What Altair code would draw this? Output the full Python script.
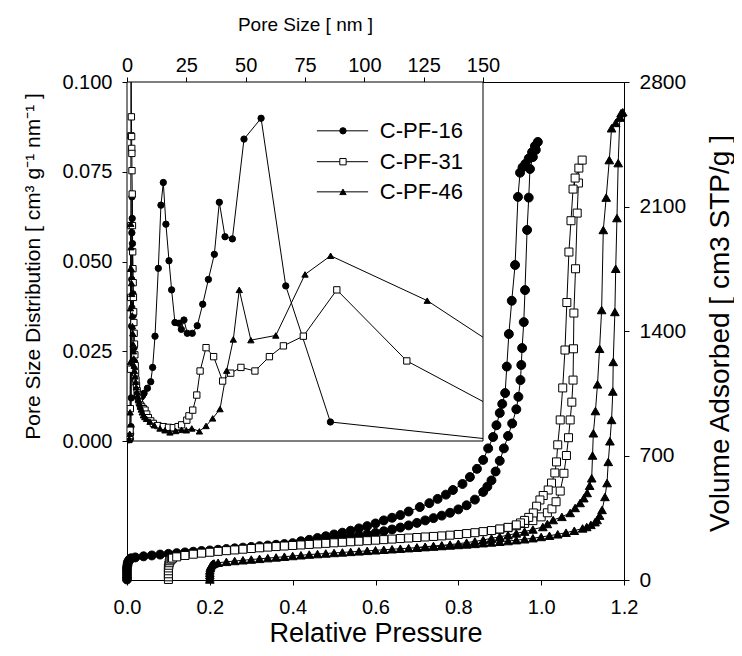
import altair as alt
import pandas as pd

# ---------------- categories / styles ----------------
SERIES = ["C-PF-16", "C-PF-31", "C-PF-46"]
OFFSET = [0.0, 0.1, 0.2]          # horizontal shift of each isotherm in the figure

P_TICKS = [0.0, 0.2, 0.4, 0.6, 0.8, 1.0, 1.2]
V_TICKS = [0, 700, 1400, 2100, 2800]
PS_TICKS = [0, 25, 50, 75, 100, 125, 150]
PSD_TICKS = [0.0, 0.025, 0.05, 0.075, 0.1]

# ---------------- isotherms (relative pressure, volume adsorbed) ----------------
ADS_16 = [(0.0, 3), (0.0, 18), (0.0, 35), (0.0, 52), (0.0, 68), (0.001, 83), (0.002, 97), (0.004, 108),
          (0.007, 117), (0.01, 122), (0.02, 127), (0.04, 133), (0.06, 138), (0.08, 143), (0.10, 147),
          (0.12, 151), (0.14, 155), (0.16, 159), (0.18, 163), (0.20, 166), (0.22, 170), (0.24, 174),
          (0.26, 178), (0.28, 182), (0.30, 186), (0.32, 190), (0.34, 194), (0.36, 198), (0.38, 202),
          (0.40, 207), (0.42, 211), (0.44, 216), (0.46, 221), (0.48, 226), (0.50, 231), (0.52, 237),
          (0.54, 243), (0.56, 250), (0.58, 257), (0.60, 265), (0.62, 274), (0.64, 284), (0.66, 295),
          (0.68, 307), (0.70, 321), (0.72, 335), (0.74, 348), (0.76, 362), (0.78, 378), (0.80, 397),
          (0.82, 420), (0.84, 452), (0.86, 495), (0.87, 525), (0.88, 560), (0.89, 610), (0.90, 670),
          (0.91, 740), (0.92, 810), (0.93, 880), (0.94, 960), (0.945, 1030), (0.95, 1124), (0.952, 1209),
          (0.954, 1304), (0.958, 1450), (0.961, 1630), (0.966, 1968), (0.970, 2150), (0.973, 2311),
          (0.980, 2378), (0.987, 2418), (0.992, 2463)]
DES_16 = [(0.985, 2440), (0.978, 2405), (0.970, 2370), (0.962, 2340), (0.955, 2320), (0.949, 2290),
          (0.944, 2154), (0.937, 1771), (0.929, 1570), (0.922, 1383), (0.917, 1200), (0.913, 1051),
          (0.906, 990), (0.900, 939), (0.892, 870), (0.884, 804), (0.872, 740), (0.860, 675),
          (0.845, 625), (0.828, 579), (0.810, 540), (0.787, 506), (0.770, 480), (0.750, 456),
          (0.730, 432), (0.707, 410), (0.680, 385), (0.660, 365), (0.640, 350), (0.620, 335),
          (0.600, 318), (0.580, 303), (0.560, 290), (0.540, 277), (0.520, 266), (0.500, 256),
          (0.480, 246), (0.460, 236), (0.440, 226), (0.420, 218)]

ADS_31 = [(0.0, 3), (0.0, 18), (0.0, 35), (0.0, 52), (0.0, 68), (0.001, 83), (0.002, 97), (0.004, 108),
          (0.007, 117), (0.01, 123), (0.02, 130), (0.04, 138), (0.06, 145), (0.08, 151), (0.10, 156),
          (0.12, 161), (0.14, 165), (0.16, 169), (0.18, 173), (0.20, 177), (0.22, 181), (0.24, 185),
          (0.26, 188), (0.28, 191), (0.30, 194), (0.32, 197), (0.34, 200), (0.36, 203), (0.38, 206),
          (0.40, 209), (0.42, 212), (0.44, 215), (0.46, 218), (0.48, 221), (0.50, 224), (0.52, 227),
          (0.54, 230), (0.56, 233), (0.58, 236), (0.60, 239), (0.62, 242), (0.64, 245), (0.66, 248),
          (0.68, 252), (0.70, 256), (0.72, 261), (0.74, 266), (0.76, 272), (0.78, 278), (0.80, 285),
          (0.82, 294), (0.84, 305), (0.86, 318), (0.88, 334), (0.90, 355), (0.915, 378), (0.926, 400),
          (0.936, 440), (0.946, 500), (0.955, 600), (0.961, 700), (0.966, 800), (0.970, 900),
          (0.974, 1000), (0.977, 1124), (0.978, 1300), (0.979, 1501), (0.983, 1750), (0.987, 2063),
          (0.990, 2232), (0.991, 2316), (0.999, 2361)]
DES_31 = [(0.982, 2260), (0.977, 2198), (0.972, 2020), (0.967, 1844), (0.962, 1560), (0.9575, 1293),
          (0.952, 1080), (0.946, 900), (0.940, 760), (0.937, 664), (0.933, 602), (0.925, 545),
          (0.917, 506), (0.905, 475), (0.897, 450), (0.889, 415), (0.881, 377), (0.870, 352),
          (0.860, 335), (0.850, 321), (0.840, 310), (0.820, 296), (0.800, 287)]

ADS_46 = [(0.0, 3), (0.0, 15), (0.0, 28), (0.0, 41), (0.0, 54), (0.001, 66), (0.002, 76), (0.004, 84),
          (0.007, 90), (0.01, 93), (0.02, 97), (0.04, 102), (0.06, 107), (0.08, 111), (0.10, 115),
          (0.12, 119), (0.14, 123), (0.16, 127), (0.18, 131), (0.20, 135), (0.22, 139), (0.24, 143),
          (0.26, 146), (0.28, 149), (0.30, 152), (0.32, 155), (0.34, 158), (0.36, 161), (0.38, 164),
          (0.40, 167), (0.42, 170), (0.44, 173), (0.46, 176), (0.48, 179), (0.50, 182), (0.52, 185),
          (0.54, 188), (0.56, 191), (0.58, 194), (0.60, 197), (0.62, 200), (0.64, 203), (0.66, 207),
          (0.68, 211), (0.70, 215), (0.72, 219), (0.74, 224), (0.76, 229), (0.78, 235), (0.80, 242),
          (0.82, 249), (0.84, 257), (0.86, 266), (0.88, 277), (0.90, 290), (0.91, 298), (0.92, 310),
          (0.93, 325), (0.935, 337), (0.941, 362), (0.947, 394), (0.954, 467), (0.959, 545),
          (0.962, 664), (0.966, 780), (0.970, 900), (0.973, 1060), (0.974, 1226), (0.978, 1507),
          (0.980, 1750), (0.983, 2035), (0.986, 2344), (0.990, 2603), (0.993, 2625), (0.997, 2630)]
DES_46 = [(0.990, 2600), (0.980, 2570), (0.970, 2540), (0.9645, 2361), (0.957, 2150), (0.950, 1968),
          (0.946, 1518), (0.941, 1300), (0.936, 1100), (0.931, 950), (0.926, 825), (0.924, 700),
          (0.922, 572), (0.917, 530), (0.911, 489), (0.903, 460), (0.894, 433), (0.882, 405),
          (0.870, 377), (0.850, 355), (0.829, 337), (0.815, 315), (0.804, 298), (0.780, 284),
          (0.760, 272), (0.740, 262), (0.720, 252), (0.700, 243), (0.680, 234), (0.660, 225),
          (0.640, 217), (0.620, 210), (0.600, 204), (0.580, 199), (0.560, 195), (0.540, 191),
          (0.520, 187), (0.500, 183)]

# ---------------- pore size distributions (pore size nm, PSD) ----------------
PSD_16 = [(0.6, 0.0004), (0.8, 0.0004), (1.0, 0.0004), (1.2, 0.0005), (1.4, 0.0006), (1.55, 0.002),
          (1.7, 0.004), (1.8, 0.012), (1.9, 0.020), (1.95, 0.032), (2.0, 0.045), (2.05, 0.058),
          (2.1, 0.068), (2.2, 0.062), (2.3, 0.055), (2.4, 0.048), (2.5, 0.041), (2.65, 0.035),
          (2.8, 0.030), (3.0, 0.026), (3.2, 0.022), (3.4, 0.019), (3.6, 0.017), (3.9, 0.0155),
          (4.2, 0.0145), (4.6, 0.0135), (5.0, 0.0128), (5.5, 0.0124), (6.0, 0.0122), (6.6, 0.0127),
          (7.2, 0.0133), (8.6, 0.0147), (10.0, 0.0165),
          (10.8, 0.0205), (11.8, 0.0292), (13.2, 0.0481), (14.3, 0.0657), (15.3, 0.0720), (16.4, 0.0604),
          (17.7, 0.0502), (18.8, 0.0421), (20.2, 0.0330), (21.9, 0.0328), (22.9, 0.0311), (24.0, 0.0337),
          (25.4, 0.0300), (27.5, 0.0300), (29.6, 0.0321), (31.9, 0.0381), (34.3, 0.0450), (36.8, 0.0520),
          (38.9, 0.0665), (41.3, 0.0569), (44.4, 0.0563), (49.3, 0.0841), (56.5, 0.0899), (66.9, 0.0432),
          (85.7, 0.0053)]
PSD_31 = [(0.6, 0.0005), (0.8, 0.0006), (1.0, 0.0008), (1.15, 0.0015), (1.3, 0.003), (1.4, 0.009),
          (1.5, 0.020), (1.55, 0.040), (1.6, 0.060), (1.65, 0.085), (1.7, 0.115),
          (1.85, 0.0903), (1.95, 0.0848), (2.0, 0.0815), (2.05, 0.0801), (2.1, 0.0753), (2.2, 0.0688),
          (2.3, 0.060), (2.4, 0.0527), (2.5, 0.048), (2.6, 0.0441), (2.7, 0.040), (2.8, 0.036),
          (2.9, 0.033), (3.0, 0.030), (3.15, 0.027), (3.3, 0.024), (3.45, 0.021), (3.6, 0.019),
          (3.8, 0.017), (4.0, 0.0155), (4.25, 0.014), (4.5, 0.0128), (4.85, 0.0117), (5.2, 0.0108),
          (5.7, 0.010), (6.2, 0.0095), (6.9, 0.009), (7.6, 0.0086), (8.3, 0.0075), (9.0, 0.0065),
          (10.0, 0.0056), (11.1, 0.0049), (13.0, 0.0043), (15.3, 0.0040), (17.5, 0.0038),
          (19.5, 0.0037), (21.5, 0.0040),
          (23.0, 0.0045), (25.2, 0.0058), (26.1, 0.0070), (27.7, 0.0086), (29.4, 0.0128), (30.8, 0.0195),
          (33.3, 0.0260), (36.5, 0.0235), (40.3, 0.0167), (43.7, 0.0189), (48.0, 0.0205), (53.9, 0.0195),
          (60.0, 0.0235), (65.9, 0.0265), (74.3, 0.0292), (88.4, 0.0421), (117.9, 0.0223)]
PSD_46 = [(0.6, 0.0003), (0.8, 0.0004), (1.0, 0.0005), (1.15, 0.002), (1.3, 0.008), (1.4, 0.022),
          (1.45, 0.037), (1.5, 0.048), (1.6, 0.0605), (1.7, 0.054), (1.8, 0.048), (1.9, 0.044),
          (2.0, 0.041), (2.1, 0.038), (2.2, 0.035), (2.3, 0.032), (2.4, 0.030), (2.55, 0.027),
          (2.7, 0.025), (2.85, 0.023), (3.0, 0.021), (3.2, 0.0195), (3.4, 0.018), (3.65, 0.0165),
          (3.9, 0.015), (4.2, 0.0137), (4.5, 0.0125), (4.85, 0.0115), (5.2, 0.0105), (5.6, 0.0096),
          (6.0, 0.0088), (6.4, 0.008), (6.9, 0.0072), (7.5, 0.0067), (8.2, 0.0062),
          (9.7, 0.0054), (11.5, 0.0044), (13.9, 0.0035), (16.0, 0.0030), (18.1, 0.0024), (20.5, 0.0028),
          (23.0, 0.0031), (25.0, 0.0030), (27.3, 0.0035), (30.5, 0.0027), (33.3, 0.0042), (36.1, 0.0063),
          (39.2, 0.0089), (42.0, 0.0196), (44.8, 0.0283), (47.3, 0.0421), (52.2, 0.0281), (62.7, 0.0294),
          (75.0, 0.0464), (85.8, 0.0516), (126.5, 0.0391)]
# value of each curve where it leaves the inset frame (at 150 nm)
PSD_AT_FRAME = [0.0007, 0.0110, 0.0289]

# ---------------- styles ----------------
SHAPES = ["circle", "square", "triangle-up"]
FILLS = ["black", "white", "black"]
MAIN_SIZE = [80, 64, 75]
INSET_SIZE = [40, 40, 40]
FONT = "Liberation Sans"

# legend placement inside the inset (in inset data space)
LEG_LINE = (80.0, 101.6)
LEG_MARK = 91.0
LEG_TEXT = 106.5
LEG_ROWS = [0.0864, 0.0778, 0.0694]

# ---------------- tables ----------------
iso_rows = []
for s, off, ads, des in zip(SERIES, OFFSET, [ADS_16, ADS_31, ADS_46], [DES_16, DES_31, DES_46]):
    for i, (p, v) in enumerate(ads + des):
        iso_rows.append({"series": s, "x": p + off, "v": v, "i": i})
iso = pd.DataFrame(iso_rows)

psd_rows = []
for s, pts, edge in zip(SERIES, [PSD_16, PSD_31, PSD_46], PSD_AT_FRAME):
    for i, (ps, d) in enumerate(pts):
        psd_rows.append({"series": s, "ps": ps, "psd": d, "i": i, "marker": 1})
    psd_rows.append({"series": s, "ps": PS_TICKS[-1], "psd": edge, "i": len(pts), "marker": 0})
psd = pd.DataFrame(psd_rows)

frame = pd.DataFrame([{"ps": PS_TICKS[0], "ps2": PS_TICKS[-1], "psd": PSD_TICKS[0], "psd2": PSD_TICKS[-1]}])
leg_lines = pd.DataFrame([{"series": s, "ps": LEG_LINE[0], "ps2": LEG_LINE[1], "psd": r}
                          for s, r in zip(SERIES, LEG_ROWS)])
leg_marks = pd.DataFrame([{"series": s, "ps": LEG_MARK, "psd": r} for s, r in zip(SERIES, LEG_ROWS)])
leg_text = pd.DataFrame([{"series": s, "ps": LEG_TEXT, "psd": r} for s, r in zip(SERIES, LEG_ROWS)])

# ---------------- encodings ----------------
W, H = 497, 498
INSET_W, INSET_H = 356, 359

common_axis = dict(tickSize=5, labelFlush=False, labelOverlap=False, titleFontWeight="normal",
                   labelFont=FONT, titleFont=FONT, labelColor="black", titleColor="black",
                   domainColor="black", tickColor="black", grid=False)

x_main = alt.X("x:Q", scale=alt.Scale(domain=[0, 1.2], nice=False, zero=False),
               axis=alt.Axis(orient="bottom", values=P_TICKS, format=".1f", title="Relative Pressure",
                             labelPadding=12, labelFontSize=20, titleFontSize=27,
                             titleY=61, titleBaseline="alphabetic", **common_axis))
y_main = alt.Y("v:Q", scale=alt.Scale(domain=[0, 2800], nice=False, zero=False),
               axis=alt.Axis(orient="right", values=V_TICKS, format="d",
                             title="Volume Adsorbed [ cm3  STP/g ]",
                             labelPadding=10, labelFontSize=21, titleFontSize=28,
                             titleAngle=270, titleX=96, titleY=251, titleAlign="center",
                             titleBaseline="middle", **common_axis))

x_in = alt.X("ps:Q", scale=alt.Scale(domain=[0, 150], range=[0, INSET_W], nice=False, zero=False),
             axis=alt.Axis(orient="top", values=PS_TICKS, format="d", title="Pore Size [ nm ]",
                           labelPadding=2, labelFontSize=20, titleFontSize=19,
                           titleY=-58, titleBaseline="middle", **common_axis))
y_in = alt.Y("psd:Q", scale=alt.Scale(domain=[0, 0.1], range=[INSET_H, 0], nice=False, zero=False),
             axis=alt.Axis(orient="left", values=PSD_TICKS, format=".3f",
                           title="Pore Size Distribution [ cm³ g⁻¹ nm⁻¹ ]",
                           labelPadding=10, labelFontSize=20, titleFontSize=21,
                           titleAngle=270, titleX=-94, titleY=184, titleAlign="center",
                           titleBaseline="middle", **common_axis))

# ---------------- main isotherm layers ----------------
main_lines = alt.Chart(iso).mark_line(color="black", strokeWidth=1).encode(
    x=x_main, y=y_main, detail="series:N", order="i:Q")
main_pts = [
    alt.Chart(iso).transform_filter(alt.datum.series == s).mark_point(
        shape=sh, filled=True, fill=f, stroke="black", strokeWidth=1, size=sz, opacity=1
    ).encode(x=x_main, y=y_main)
    for s, sh, f, sz in zip(SERIES, SHAPES, FILLS, MAIN_SIZE)
]
main = alt.layer(main_lines, *main_pts)

# ---------------- inset layers ----------------
inset_bg = alt.Chart(frame).mark_rect(fill="white", stroke="black", strokeWidth=1).encode(
    x=x_in, x2="ps2:Q", y=y_in, y2="psd2:Q")
in_lines = alt.Chart(psd).mark_line(color="black", strokeWidth=1, clip=True).encode(
    x=x_in, y=y_in, detail="series:N", order="i:Q")
in_pts = [
    alt.Chart(psd).transform_filter((alt.datum.series == s) & (alt.datum.marker == 1)).mark_point(
        shape=sh, filled=True, fill=f, stroke="black", strokeWidth=1, size=sz, opacity=1, clip=True
    ).encode(x=x_in, y=y_in)
    for s, sh, f, sz in zip(SERIES, SHAPES, FILLS, INSET_SIZE)
]
leg_rule = alt.Chart(leg_lines).mark_rule(color="black", strokeWidth=1).encode(
    x=x_in, x2="ps2:Q", y=y_in)
leg_pts = [
    alt.Chart(leg_marks).transform_filter(alt.datum.series == s).mark_point(
        shape=sh, filled=True, fill=f, stroke="black", strokeWidth=1, size=sz, opacity=1
    ).encode(x=x_in, y=y_in)
    for s, sh, f, sz in zip(SERIES, SHAPES, FILLS, INSET_SIZE)
]
leg_lab = alt.Chart(leg_text).mark_text(align="left", baseline="middle", fontSize=22,
                                        font=FONT, color="black").encode(
    x=x_in, y=y_in, text="series:N")
inset = alt.layer(inset_bg, in_lines, *in_pts, leg_rule, *leg_pts, leg_lab)

chart = alt.layer(main, inset).resolve_scale(x="independent", y="independent").properties(
    width=W, height=H,
    autosize=alt.AutoSizeParams(type="none"),
    padding={"left": 119, "top": 74, "right": 110, "bottom": 68},
).configure(font=FONT, background="white").configure_view(
    stroke="black", strokeWidth=1
).configure_axis(
    grid=False, domainColor="black", tickColor="black", labelColor="black", titleColor="black",
    labelFont=FONT, titleFont=FONT, titleFontWeight="normal", domainWidth=1, tickWidth=1
)

chart.save("out.html", embed_options={"renderer": "svg", "actions": False})
